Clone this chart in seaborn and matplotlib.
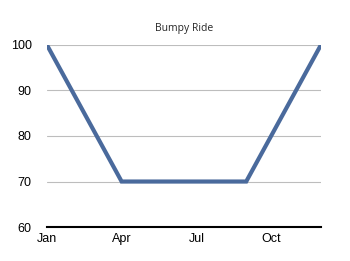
import pandas as pd
import matplotlib
matplotlib.use('Agg')
import matplotlib.pyplot as plt
import seaborn as sns

# monthly values
months = ['Jan', 'Feb', 'Mar', 'Apr', 'May', 'Jun', 'Jul', 'Aug', 'Sep', 'Oct', 'Nov', 'Dec']
values = [100, 90, 80, 70, 70, 70, 70, 70, 70, 80, 90, 100]
tick_months = ['Jan', 'Apr', 'Jul', 'Oct']

data = pd.DataFrame({'month': range(len(months)), 'value': values})

sns.set_style('white')
plt.rcParams['font.family'] = ['Liberation Sans', 'DejaVu Sans']

fig = plt.figure(figsize=(3.5, 2.61), dpi=100)
ax = fig.add_axes([0.134, 0.130, 0.783, 0.698])

sns.lineplot(data=data, x='month', y='value', ax=ax, color='#4a6a9c', linewidth=3.0,
             solid_joinstyle='miter', zorder=3)

ax.set_xlim(0, 11)
ax.set_ylim(60, 100)
ax.set_yticks([60, 70, 80, 90, 100])
ax.set_xticks([months.index(m) for m in tick_months])
ax.set_xticklabels(tick_months)
ax.tick_params(axis='both', length=0, labelsize=9, colors='black')
ax.tick_params(axis='x', pad=4)
ax.tick_params(axis='y', pad=11)
ax.yaxis.grid(True, color='#bdbdbd', linewidth=0.8)
ax.set_xlabel('')
ax.set_ylabel('')

for side in ['top', 'right', 'left']:
    ax.spines[side].set_visible(False)
ax.spines['bottom'].set_color('black')
ax.spines['bottom'].set_linewidth(1.5)

ax.set_title('Bumpy Ride', fontsize=7.5, pad=10, family=['Open Sans', 'DejaVu Sans'])

fig.savefig('out.png', dpi=100)
